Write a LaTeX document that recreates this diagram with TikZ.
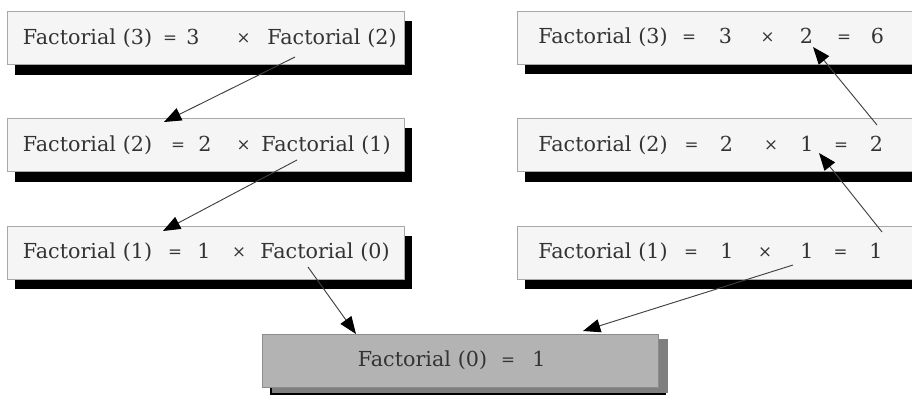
\documentclass[tikz,border=0pt]{standalone}
\usepackage{fontspec}
\setmainfont{DejaVu Serif}
\usetikzlibrary{shadows,arrows.meta}

\definecolor{boxfill}{HTML}{F5F5F5}
\definecolor{boxline}{HTML}{A8A8A8}
\definecolor{basefill}{HTML}{B3B3B3}
\definecolor{baseline}{HTML}{8C8C8C}
\definecolor{baseshade}{HTML}{7F7F7F}
\definecolor{inkgray}{HTML}{333333}

\newdimen\pxu \pxu=0.75pt
% token centred at #1 px from the left edge of its box
\newcommand{\tk}[2]{\makebox[0pt][l]{\hspace{#1\pxu}\makebox[0pt][c]{#2}}}
\newcommand{\eqs}{\raisebox{0.8pt}{\fontsize{12.5}{14}\selectfont =}}
\newcommand{\tms}{\raisebox{0.8pt}{\fontsize{12.5}{14}\selectfont ×}}

\tikzset{
  factbox/.style={draw=boxline, fill=boxfill, text=inkgray,
    font=\fontsize{15.5}{18}\selectfont, inner xsep=0pt, align=left,
    minimum height=40pt,
    drop shadow={shadow xshift=6pt, shadow yshift=-7.5pt, fill=black, opacity=1}},
  leftbox/.style={factbox, text width=297.75pt},
  rightbox/.style={factbox, text width=312pt},
  basebox/.style={factbox, draw=baseline, fill=basefill, text width=297pt,
    drop shadow={shadow xshift=7.5pt, shadow yshift=-4pt, fill=baseshade, opacity=1}},
  recarrow/.style={draw=black!75, line width=0.7pt,
    -{Triangle[length=13pt,width=10pt,color=black]}}
}

\begin{document}
\begin{tikzpicture}[x=0.75pt,y=-0.75pt]
  \useasboundingbox (0,0) rectangle (912,394);

  % calls going down
  \node[leftbox] (L1) at (205.5,38)
    {\tk{80.5}{Factorial (3)}\tk{163}{\eqs}\tk{186}{3}\tk{236.5}{\tms}\tk{325}{Factorial (2)}};
  \node[leftbox] (L2) at (205.5,145)
    {\tk{80.5}{Factorial (2)}\tk{171}{\eqs}\tk{198}{2}\tk{236.5}{\tms}\tk{319}{Factorial (1)}};
  \node[leftbox] (L3) at (205.5,252.5)
    {\tk{80.5}{Factorial (1)}\tk{168}{\eqs}\tk{197}{1}\tk{232}{\tms}\tk{318}{Factorial (0)}};

  % values coming back
  \node[rightbox] (R1) at (725,37.5)
    {\tk{86}{Factorial (3)}\tk{172}{\eqs}\tk{208.5}{3}\tk{250.5}{\tms}\tk{289.5}{2}\tk{327}{\eqs}\tk{360.5}{6}};
  \node[rightbox] (R2) at (725,145)
    {\tk{86}{Factorial (2)}\tk{174.5}{\eqs}\tk{209.5}{2}\tk{254}{\tms}\tk{290}{1}\tk{324}{\eqs}\tk{359.5}{2}};
  \node[rightbox] (R3) at (725,252.5)
    {\tk{86}{Factorial (1)}\tk{174}{\eqs}\tk{210}{1}\tk{248}{\tms}\tk{290}{1}\tk{323.5}{\eqs}\tk{359}{1}};

  % base case
  \node[basebox] (B) at (460,360.5)
    {\tk{160.5}{Factorial (0)}\tk{246}{\eqs}\tk{277}{1}};

  % arrow ends
  \coordinate (L1o) at (295,57);
  \coordinate (L2i) at (164,122);
  \coordinate (L2o) at (297,160);
  \coordinate (L3i) at (163,231);
  \coordinate (L3o) at (308,267);
  \coordinate (Bl) at (356,334);
  \coordinate (R3o) at (793,265);
  \coordinate (Br) at (583,331);
  \coordinate (R3u) at (882,232);
  \coordinate (R2i) at (819,153);
  \coordinate (R2u) at (877,125);
  \coordinate (R1i) at (813,47);

  \draw[recarrow] (L1o) -- (L2i);
  \draw[recarrow] (L2o) -- (L3i);
  \draw[recarrow] (L3o) -- (Bl);
  \draw[recarrow] (R3o) -- (Br);
  \draw[recarrow] (R3u) -- (R2i);
  \draw[recarrow] (R2u) -- (R1i);
\end{tikzpicture}
\end{document}
